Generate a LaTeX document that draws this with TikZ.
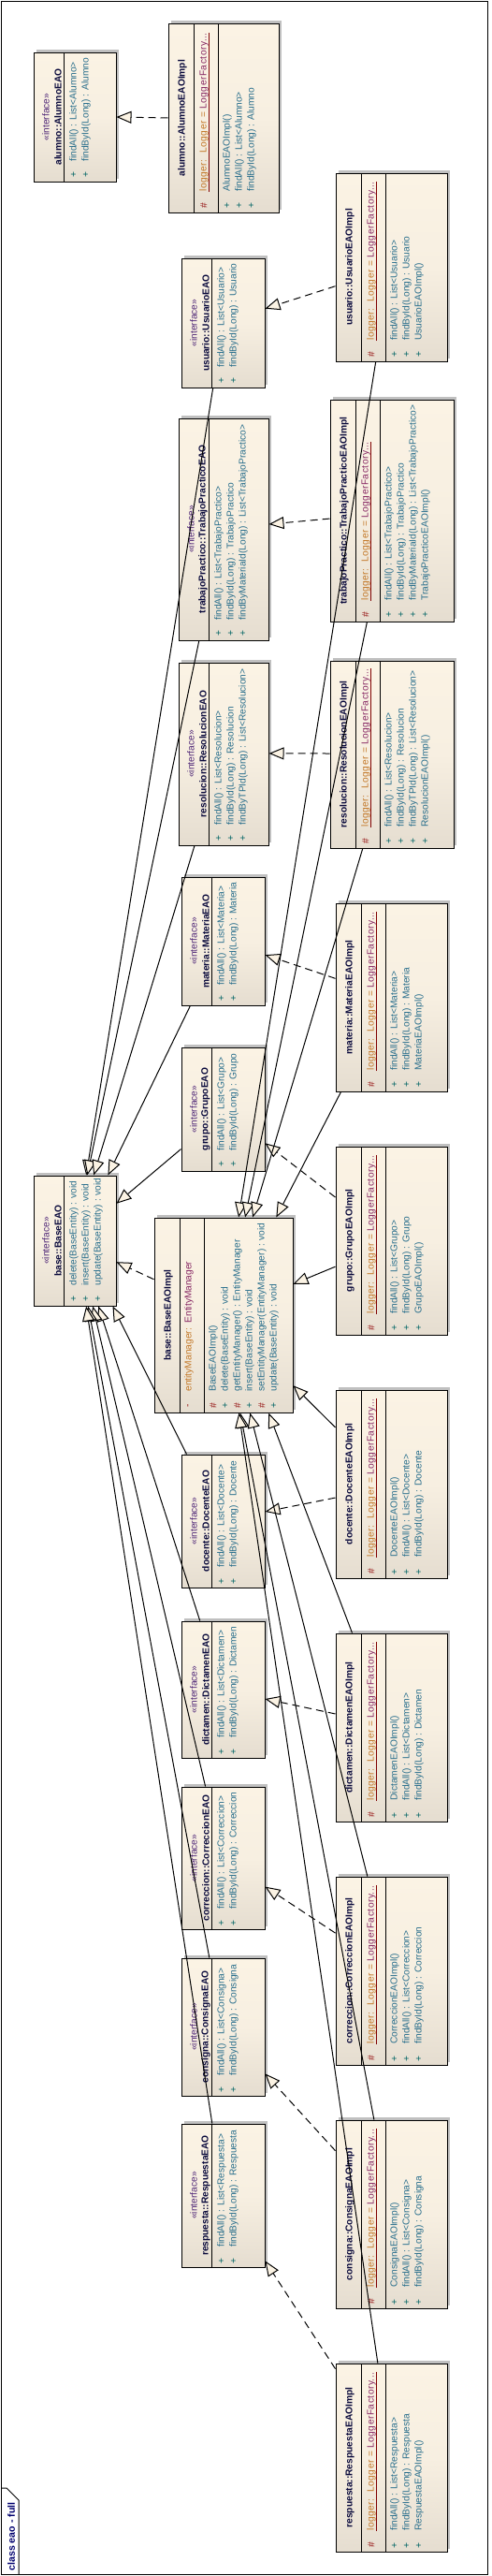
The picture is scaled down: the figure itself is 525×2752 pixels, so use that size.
\documentclass[tikz,border=0pt]{standalone}
\usepackage{fontspec}
\setmainfont{Liberation Sans}
\usetikzlibrary{arrows.meta,calc,fit,shadows}
\definecolor{boxlight}{RGB}{251,243,228}
\definecolor{boxdark}{RGB}{229,221,208}
\definecolor{boxmid}{RGB}{247,239,225}
\definecolor{shadowgray}{RGB}{192,192,192}
\definecolor{namecol}{RGB}{10,10,60}
\definecolor{stereocol}{RGB}{80,40,120}
\definecolor{membercol}{RGB}{40,110,140}
\definecolor{pluscol}{RGB}{0,100,100}
\definecolor{hashcol}{RGB}{150,20,20}
\definecolor{attrcol}{RGB}{195,120,40}
\definecolor{factcol}{RGB}{135,40,100}
\definecolor{ulcol}{RGB}{128,0,0}
\definecolor{tabcol}{RGB}{0,0,110}
\newcommand{\classfont}{\fontsize{5.1}{6}\selectfont}

\tikzset{
  classbox/.style={draw=black, inner sep=0pt, top color=boxlight, bottom color=boxdark, middle color=boxmid,
    drop shadow={shadow xshift=1.5pt, shadow yshift=1.5pt, fill=shadowgray, opacity=1}},
  classname/.style={rotate=90, inner sep=0pt, font=\classfont\bfseries, text=namecol},
  stereo/.style={rotate=90, inner sep=0pt, font=\classfont, text=stereocol},
  member/.style={rotate=90, anchor=west, inner sep=0pt, font=\classfont, text=membercol},
  vis/.style={rotate=90, inner sep=0pt, font=\classfont},
  realize/.style={dash pattern=on 4pt off 2.5pt, -{Triangle[length=8pt,width=6.5pt,fill=boxlight]}},
  extend/.style={-{Triangle[length=8pt,width=6.5pt,fill=boxlight]}}
}

% interface: name, x0, y0, x1, y1, title, operations
\newcommand{\ifacebox}[7]{%
  \node[classbox, fit={(#2,#3) (#4,#5)}] (#1) {};
  \draw ({#2+32},#3) -- ({#2+32},#5);
  \node[stereo] at ({#2+13},{(#3+#5)/2}) {«interface»};
  \node[classname] at ({#2+26},{(#3+#5)/2}) {#6};
  \foreach \m [count=\i from 0] in {#7} {
    \node[vis, text=pluscol] at ({#2+43+13*\i},{#5-7}) {+};
    \node[member] at ({#2+43+13*\i},{#5-21}) {\m};
  }
}

% implementation: name, x0, y0, x1, y1, title, operations
\newcommand{\implbox}[7]{%
  \node[classbox, fit={(#2,#3) (#4,#5)}] (#1) {};
  \draw ({#2+27},#3) -- ({#2+27},#5);
  \draw ({#2+53},#3) -- ({#2+53},#5);
  \node[classname] at ({#2+15},{(#3+#5)/2}) {#6};
  \node[vis, text=hashcol] at ({#2+38},{#5-7}) {\#};
  \node[member] (#1-logger) at ({#2+38},{#5-22})
    {\addfontfeature{LetterSpace=5}\textcolor{attrcol}{logger:\ \ Logger = }\textcolor{factcol}{LoggerFactory...}};
  \draw[ulcol] (#1-logger.south west) -- (#1-logger.south east);
  \foreach \m [count=\i from 0] in {#7} {
    \node[vis, text=pluscol] at ({#2+63+13*\i},{#5-7}) {+};
    \node[member] at ({#2+63+13*\i},{#5-22}) {\m};
  }
}

\begin{document}
\begin{tikzpicture}[x=0.5pt, y=-0.5pt, line width=0.5pt]
\useasboundingbox (0,0) rectangle (525,2752);
\draw (1.5,1) rectangle (521.5,2750);
\draw (1.5,2658) -- (7,2658) -- (20,2671) -- (20,2750);
\node[rotate=90, anchor=west, inner sep=0pt, font=\fontsize{5.3}{6}\selectfont\bfseries, text=tabcol] (tab) at (12,2747) {class eao - full};

\ifacebox{alum}{36}{56}{124}{194}{alumno::AlumnoEAO}{findAll() : List<Alumno>, findById(Long) : Alumno}
\implbox{alumI}{180}{25}{298}{227}{alumno::AlumnoEAOImpl}{AlumnoEAOImpl(), findAll() : List<Alumno>, findById(Long) : Alumno}
\ifacebox{usu}{194}{276}{283}{414}{usuario::UsuarioEAO}{findAll() : List<Usuario>, findById(Long) : Usuario}
\implbox{usuI}{359}{185}{478}{386}{usuario::UsuarioEAOImpl}{findAll() : List<Usuario>, findById(Long) : Usuario, UsuarioEAOImpl()}
\ifacebox{tp}{191}{447}{287}{684}{trabajoPractico::TrabajoPracticoEAO}{findAll() : List<TrabajoPractico>, findById(Long) : TrabajoPractico, findByMateriaId(Long) : List<TrabajoPractico>}
\implbox{tpI}{353}{427}{485}{664}{trabajoPractico::TrabajoPracticoEAOImpl}{findAll() : List<TrabajoPractico>, findById(Long) : TrabajoPractico, findByMateriaId(Long) : List<TrabajoPractico>, TrabajoPracticoEAOImpl()}
\ifacebox{res}{191}{708}{287}{903}{resolucion::ResolucionEAO}{findAll() : List<Resolucion>, findById(Long) : Resolucion, findByTPId(Long) : List<Resolucion>}
\implbox{resI}{353}{706}{485}{906}{resolucion::ResolucionEAOImpl}{findAll() : List<Resolucion>, findById(Long) : Resolucion, findByTPId(Long) : List<Resolucion>, ResolucionEAOImpl()}
\ifacebox{mat}{194}{937}{283}{1074}{materia::MateriaEAO}{findAll() : List<Materia>, findById(Long) : Materia}
\implbox{matI}{359}{965}{478}{1166}{materia::MateriaEAOImpl}{findAll() : List<Materia>, findById(Long) : Materia, MateriaEAOImpl()}
\ifacebox{gru}{194}{1119}{283}{1251}{grupo::GrupoEAO}{findAll() : List<Grupo>, findById(Long) : Grupo}
\implbox{gruI}{359}{1225}{478}{1426}{grupo::GrupoEAOImpl}{findAll() : List<Grupo>, findById(Long) : Grupo, GrupoEAOImpl()}
\ifacebox{base}{36}{1256}{124}{1395}{base::BaseEAO}{delete(BaseEntity) : void, insert(BaseEntity) : void, update(BaseEntity) : void}

\node[classbox, fit={(165,1301) (313,1509)}] (baseI) {};
\draw (192,1301) -- (192,1509);
\draw (218,1301) -- (218,1509);
\node[classname] at (180,1405) {base::BaseEAOImpl};
\node[vis, text=hashcol] at (202,1502) {-};
\node[member] at (202,1487) {\textcolor{attrcol}{entityManager:\ \ }\textcolor{factcol}{EntityManager}};
\foreach \c/\v/\m [count=\i from 0] in {hashcol/\#/BaseEAOImpl(), pluscol/+/delete(BaseEntity) : void,
    hashcol/\#/getEntityManager() : EntityManager, pluscol/+/insert(BaseEntity) : void,
    hashcol/\#/setEntityManager(EntityManager) : void, pluscol/+/update(BaseEntity) : void} {
  \node[vis, text=\c] at ({228+13*\i},1502) {\v};
  \node[member] at ({228+13*\i},1487) {\m};
}

\ifacebox{doc}{194}{1554}{283}{1696}{docente::DocenteEAO}{findAll() : List<Docente>, findById(Long) : Docente}
\implbox{docI}{359}{1485}{478}{1686}{docente::DocenteEAOImpl}{DocenteEAOImpl(), findAll() : List<Docente>, findById(Long) : Docente}
\ifacebox{dic}{194}{1732}{283}{1878}{dictamen::DictamenEAO}{findAll() : List<Dictamen>, findById(Long) : Dictamen}
\implbox{dicI}{359}{1745}{478}{1946}{dictamen::DictamenEAOImpl}{DictamenEAOImpl(), findAll() : List<Dictamen>, findById(Long) : Dictamen}
\ifacebox{cor}{194}{1909}{283}{2061}{correccion::CorreccionEAO}{findAll() : List<Correccion>, findById(Long) : Correccion}
\implbox{corI}{359}{2005}{478}{2206}{correccion::CorreccionEAOImpl}{CorreccionEAOImpl(), findAll() : List<Correccion>, findById(Long) : Correccion}
\ifacebox{con}{194}{2092}{283}{2239}{consigna::ConsignaEAO}{findAll() : List<Consigna>, findById(Long) : Consigna}
\implbox{conI}{359}{2265}{478}{2466}{consigna::ConsignaEAOImpl}{ConsignaEAOImpl(), findAll() : List<Consigna>, findById(Long) : Consigna}
\ifacebox{resp}{194}{2269}{283}{2422}{respuesta::RespuestaEAO}{findAll() : List<Respuesta>, findById(Long) : Respuesta}
\implbox{respI}{359}{2525}{478}{2726}{respuesta::RespuestaEAOImpl}{findAll() : List<Respuesta>, findById(Long) : Respuesta, RespuestaEAOImpl()}

% realizations
\foreach \s/\p/\t/\q in {alumI/0.5/alum/0.5, usuI/0.6/usu/0.39, tpI/0.536/tp/0.477, resI/0.495/res/0.497,
    matI/0.4/mat/0.606, gruI/0.27/gru/0.773, baseI/0.317/base/0.662, docI/0.572/doc/0.43,
    dicI/0.428/dic/0.568, corI/0.3/cor/0.7, conI/0.164/con/0.837, respI/0.03/resp/0.954}
  \draw[realize] ($(\s.north west)!\p!(\s.south west)$) -- ($(\t.north east)!\q!(\t.south east)$);

% generalizations
\foreach \s/\p/\q in {usu/0.38/0.636, tp/0.23/0.65, res/0.18/0.727, mat/0.11/0.898}
  \draw[extend] ($(\s.south west)!\p!(\s.south east)$) -- ($(base.north west)!\q!(base.north east)$);
\foreach \s/\p/\q in {doc/0.067/0.955, dic/0.225/0.784, cor/0.29/0.716, con/0.337/0.66, resp/0.37/0.636}
  \draw[extend] ($(\s.north west)!\p!(\s.north east)$) -- ($(base.south west)!\q!(base.south east)$);
\draw[extend] ($(gru.north west)!0.82!(gru.south west)$) -- ($(base.north east)!0.216!(base.south east)$);

\foreach \s/\p/\q in {usuI/0.36/0.608, tpI/0.30/0.655, resI/0.265/0.709, matI/0.05/0.878}
  \draw[extend] ($(\s.south west)!\p!(\s.south east)$) -- ($(baseI.north west)!\q!(baseI.north east)$);
\foreach \s/\p/\q in {dicI/0.15/0.824, corI/0.286/0.69, conI/0.345/0.62, respI/0.378/0.61}
  \draw[extend] ($(\s.north west)!\p!(\s.north east)$) -- ($(baseI.south west)!\q!(baseI.south east)$);
\draw[extend] ($(gruI.north west)!0.637!(gruI.south west)$) -- ($(baseI.north east)!0.341!(baseI.south east)$);
\draw[extend] ($(docI.north west)!0.2!(docI.south west)$) -- ($(baseI.north east)!0.86!(baseI.south east)$);
\end{tikzpicture}
\end{document}
